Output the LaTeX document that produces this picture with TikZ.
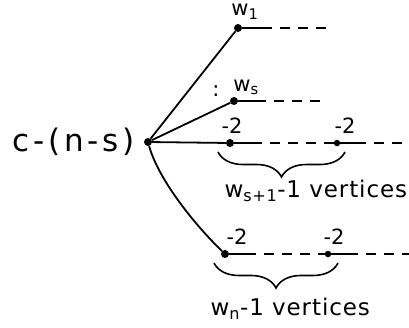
\documentclass[tikz,border=0pt]{standalone}
\usepackage{fontspec}
\setmainfont{DejaVu Sans}
\usetikzlibrary{decorations.pathreplacing}
\begin{document}
\begin{tikzpicture}[x=1pt,y=-1pt,
  vtx/.style={circle,fill=black,inner sep=0pt,minimum size=8pt},
  edge/.style={line width=1.8pt},
  dsh/.style={line width=1.6pt,dash pattern=on 10pt off 8pt},
  lbl/.style={font=\fontsize{21}{21}\selectfont},
  big/.style={font=\fontsize{23}{23}\selectfont\addfontfeature{LetterSpace=4}},
  brc/.style={line width=1.6pt,decorate,decoration={brace,amplitude=25pt}}]
\useasboundingbox (0,0) rectangle (409,327);
\node[vtx] (c) at (148,142) {};
\node[anchor=east,font=\fontsize{31}{31}\selectfont\addfontfeature{LetterSpace=12}] (cl) at (138,142) {c-(n-s)};
\node[vtx] (w1) at (238,28) {};
\node[vtx] (ws) at (234,101) {};
\node[vtx] (a1) at (230,143) {};
\node[vtx,minimum size=6.5pt] (a2) at (337,143) {};
\node[vtx] (b1) at (225,254) {};
\node[vtx,minimum size=6.5pt] (b2) at (328,254) {};
\node[lbl] (lw1) at (245,12) {w\textsubscript{1}};
\node[lbl] (lws) at (246,87) {w\textsubscript{s}};
\node[lbl] (dots) at (216,91) {:};
\node[lbl] (la1) at (232,126) {-2};
\node[lbl] (la2) at (345,126) {-2};
\node[lbl] (lb1) at (237,237) {-2};
\node[lbl] (lb2) at (334,237) {-2};
\coordinate (w1e) at (332,28);
\coordinate (w1s) at (262,28);
\coordinate (wse) at (324,101);
\coordinate (wss) at (256,101);
\coordinate (a1s) at (252,143);
\coordinate (a2s) at (356,143);
\coordinate (a2e) at (409,143);
\coordinate (b1s) at (246,254);
\coordinate (b2s) at (348,254);
\coordinate (b2e) at (409,254);
\draw[edge] (c) -- (w1);
\draw[edge] (c) -- (ws);
\draw[edge] (c) -- (a1);
\draw[edge] (c) .. controls (158,178) and (192,222) .. (b1);
\draw[edge] (w1) -- (w1s);
\draw[dsh] (w1s) -- (w1e);
\draw[edge] (ws) -- (wss);
\draw[dsh] (wss) -- (wse);
\draw[edge] (a1) -- (a1s);
\draw[dsh] (a1s) -- (a2);
\draw[edge] (a2) -- (a2s);
\draw[dsh] (a2s) -- (a2e);
\draw[edge] (b1) -- (b1s);
\draw[dsh] (b1s) -- (b2);
\draw[edge] (b2) -- (b2s);
\draw[dsh] (b2s) -- (b2e);
\draw[brc] (345,152) -- (218,152);
\draw[brc] (338,263) -- (214,263);
\node[big,anchor=west] (t1) at (221,191) {w\textsubscript{s+1}-1 vertices};
\node[big,anchor=west] (t2) at (207,309) {w\textsubscript{n}-1 vertices};
\end{tikzpicture}
\end{document}
